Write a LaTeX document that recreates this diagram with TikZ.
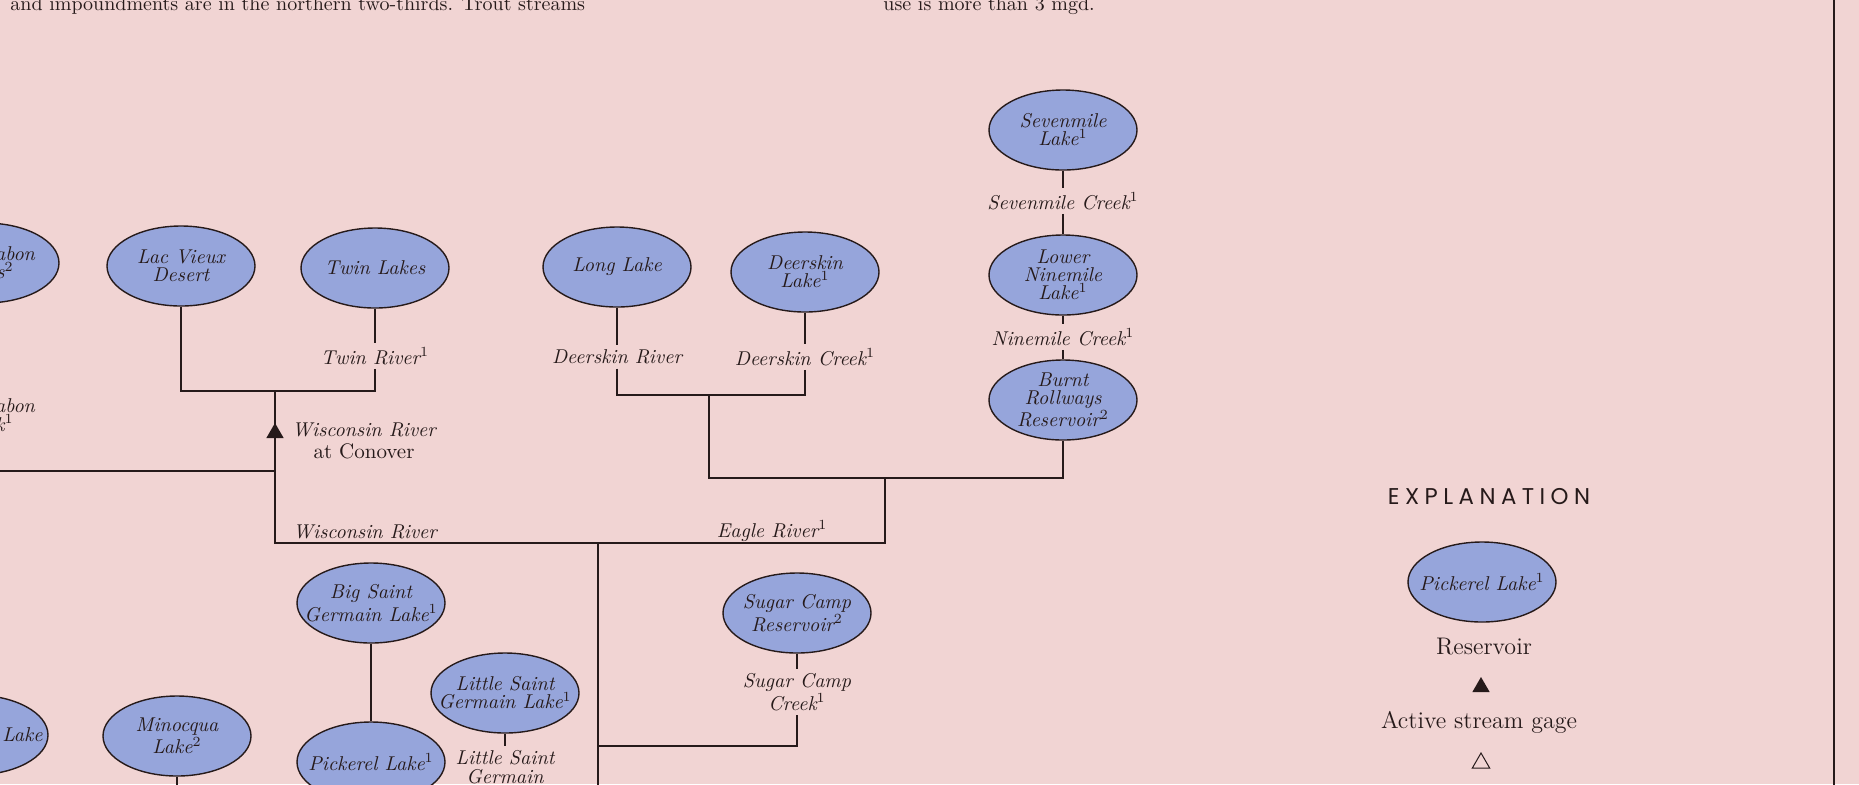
\documentclass[tikz,border=0pt]{standalone}
\usepackage{fontspec}
\newfontfamily\expfont[LetterSpace=24]{Poppins}
\usetikzlibrary{shapes.geometric}
\definecolor{bg}{RGB}{241,212,211}
\definecolor{lakefill}{RGB}{150,165,219}
\definecolor{ink}{RGB}{38,26,26}
\newcommand{\mysup}[1]{\textsuperscript{\upshape #1}}
\newcommand{\heavy}{\addfontfeatures{FakeBold=2}}
\begin{document}
\begin{tikzpicture}[x=0.5pt,y=-0.5pt,
  every node/.style={text=ink},
  lake/.style={ellipse, draw=ink, line width=0.7pt, fill=lakefill, minimum width=74pt, minimum height=40pt, inner sep=0pt},
  laketext/.style={font=\fontsize{10}{9}\selectfont\itshape\heavy, align=center, inner sep=0pt},
  streamlbl/.style={font=\fontsize{10}{9.4}\selectfont\itshape\heavy, align=center, inner sep=2pt},
  plainlbl/.style={font=\fontsize{10}{11}\selectfont\heavy, align=center, inner sep=0pt},
  legendlbl/.style={font=\fontsize{12}{13}\selectfont\heavy, align=center, inner sep=0pt},
  riverline/.style={draw=ink, line width=0.75pt},
  gagefilled/.style={regular polygon, regular polygon sides=3, fill=ink, minimum size=10pt, inner sep=0pt},
  gageopen/.style={regular polygon, regular polygon sides=3, draw=ink, line width=0.5pt, minimum size=10pt, inner sep=0pt},
]
\useasboundingbox (0,0) rectangle (1859,784);
\fill[bg] (0,0) rectangle (1859,784);
\clip (0,0) rectangle (1859,784);

% top text
\node[plainlbl, anchor=base west] (tx1) at (10,10) {and impoundments are in the northern two-thirds. Trout streams};
\node[plainlbl, anchor=base west] (tx2) at (883,10) {use is more than 3 mgd.};

% right border
\coordinate (bt) at (1834,-5);
\coordinate (bb) at (1834,790);
\draw[draw=ink, line width=1pt] (bt) -- (bb);

% coordinates
\coordinate (j1) at (275,391);
\coordinate (jbk) at (275,471);
\coordinate (jw) at (275,543);
\coordinate (je) at (885,543);
\coordinate (jer) at (885,478);
\coordinate (jd) at (709,395);
\coordinate (jde) at (709,478);
\coordinate (jm) at (598,543);
\coordinate (mbot) at (598,800);
\coordinate (jsc) at (598,746);
\coordinate (lscb) at (505,800);
\coordinate (mqb) at (177,800);

% lines
\draw[riverline] (j1) -- (jw) -- (je) -- (jer);
\draw[riverline] (jd) -- (jde) -- (jer);
\draw[riverline] (jm) -- (mbot);

% lakes
\node[lake] (bk) at (-15,263) {};
\node[laketext] (bkT) at (bk) {Buckatabon\\Lakes\mysup{2}};
\node[lake] (lv) at (181,266) {};
\node[laketext] (lvT) at (lv) {Lac Vieux\\Desert};
\node[lake] (tl) at (375,268) {};
\node[laketext] (tlT) at (tl) {Twin Lakes};
\node[lake] (ll) at (617,267) {};
\node[laketext] (llT) at (ll) {Long Lake};
\node[lake] (dl) at (805,272) {};
\node[laketext] (dlT) at (dl) {Deerskin\\Lake\mysup{1}};
\node[lake] (sm) at (1063,130) {};
\node[laketext] (smT) at (sm) {Sevenmile\\Lake\mysup{1}};
\node[lake] (ln) at (1063,275) {};
\node[laketext] (lnT) at (ln) {Lower\\Ninemile\\Lake\mysup{1}};
\node[lake] (br) at (1063,400) {};
\node[laketext] (brT) at (br) {Burnt\\Rollways\\Reservoir\mysup{2}};
\node[lake] (bsg) at (371,603) {};
\node[laketext] (bsgT) at (bsg) {Big Saint\\Germain Lake\mysup{1}};
\node[lake] (pk) at (371,762) {};
\node[laketext] (pkT) at (pk) {Pickerel Lake\mysup{1}};
\node[lake] (lsg) at (505,693) {};
\node[laketext] (lsgT) at (lsg) {Little Saint\\Germain Lake\mysup{1}};
\node[lake] (mq) at (177,736) {};
\node[laketext] (mqT) at (mq) {Minocqua\\Lake\mysup{2}};
\node[lake] (lk) at (-26,735) {};
\node[laketext, anchor=east] (lkT) at (43,735) {Lake};
\node[lake] (sc) at (797,613) {};
\node[laketext] (scT) at (sc) {Sugar Camp\\Reservoir\mysup{2}};

% stream labels
\node[streamlbl] (bkc) at (-15,415) {Buckatabon\\Creek\mysup{1}};
\node[streamlbl] (twr) at (375,356) {Twin River\mysup{1}};
\node[streamlbl] (dsr) at (617,357) {Deerskin River};
\node[streamlbl] (dsc) at (805,357) {Deerskin Creek\mysup{1}};
\node[streamlbl] (smc) at (1063,201) {Sevenmile Creek\mysup{1}};
\node[streamlbl] (nmc) at (1063,337) {Ninemile Creek\mysup{1}};
\node[streamlbl] (scc) at (797,692) {Sugar Camp\\Creek\mysup{1}};
\node[streamlbl] (lsc) at (505,767) {Little Saint\\Germain};
\node[streamlbl] (wrl) at (365,532) {Wisconsin River};
\node[streamlbl] (erl) at (772,531) {Eagle River\mysup{1}};
\node[streamlbl, font=\fontsize{10}{11}\selectfont\itshape\heavy] (cnv) at (364,441) {Wisconsin River\\{\upshape\fontsize{10.5}{11}\selectfont at Conover}};

% connectors
\draw[riverline] (lv.south) |- (j1);
\draw[riverline] (tl.south) -- (twr.north);
\draw[riverline] (twr.south) |- (j1);
\draw[riverline] (bk.south) -- (bkc.north);
\draw[riverline] (bkc.south) |- (jbk);
\draw[riverline] (ll.south) -- (dsr.north);
\draw[riverline] (dsr.south) |- (jd);
\draw[riverline] (dl.south) -- (dsc.north);
\draw[riverline] (dsc.south) |- (jd);
\draw[riverline] (sm.south) -- (smc.north);
\draw[riverline] (smc.south) -- (ln.north);
\draw[riverline] (ln.south) -- (nmc.north);
\draw[riverline] (nmc.south) -- (br.north);
\draw[riverline] (jde) -| (br.south);
\draw[riverline] (sc.south) -- (scc.north);
\draw[riverline] (scc.south) |- (jsc);
\draw[riverline] (bsg.south) -- (pk.north);
\draw[riverline] (lsg.south) -- (lsc.north);
\draw[riverline] (lsc.south) -- (lscb);
\draw[riverline] (mq.south) -- (mqb);

% gage
\node[gagefilled] (g1) at (275,433) {};

% explanation
\node[font={\expfont\fontsize{11.4}{13}\selectfont}, inner sep=0pt] (expl) at (1489,497) {EXPLANATION};
\node[lake] (lg) at (1482,582) {};
\node[laketext] (lgT) at (lg) {Pickerel Lake\mysup{1}};
\node[legendlbl] (lgr) at (1484,647) {Reservoir};
\node[gagefilled] (lgf) at (1481,687) {};
\node[legendlbl] (lga) at (1479,722) {Active stream gage};
\node[gageopen] (lgo) at (1481,763) {};
\end{tikzpicture}
\end{document}
